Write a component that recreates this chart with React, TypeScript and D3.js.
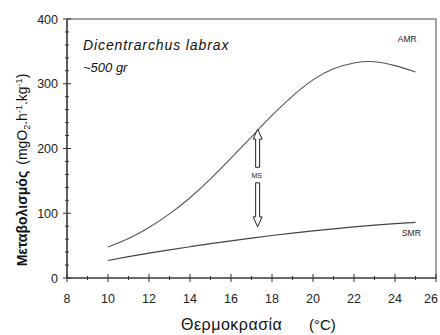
import React from 'react';
import * as d3 from 'd3';

const temps = [10, 11, 12, 13, 14, 15, 16, 17, 18, 19, 20, 21, 22, 23, 24, 25];
const amr = [48, 61, 78, 99, 124, 153, 185, 218, 251, 281, 306, 323, 332, 334, 328, 318];
const smr = [27, 33, 38.5, 43.5, 48.3, 53, 57.4, 61.6, 65.6, 69.3, 72.8, 76, 79, 81.7, 84, 86];
const xTicks = [8, 10, 12, 14, 16, 18, 20, 22, 24, 26];
const yTicks = [0, 100, 200, 300, 400];
const msTemp = 17.3;
const msUp = [171, 230];
const msDown = [147, 79];

const W = 440;
const H = 335;
const margin = { top: 19, right: 4, bottom: 57, left: 67 };
const font = "'Liberation Sans', Arial, sans-serif";
const ink = '#333';

const x = d3.scaleLinear().domain([8, 26]).range([margin.left, W - margin.right]);
const y = d3.scaleLinear().domain([0, 400]).range([H - margin.bottom, margin.top]);

const line = d3
  .line<number>()
  .x((_, i) => x(temps[i]))
  .y((d) => y(d))
  .curve(d3.curveNatural);

// hollow arrow, tip at yTip
const arrowPath = (cx: number, yBase: number, yTip: number) => {
  const dir = yTip < yBase ? -1 : 1;
  const head = 10;
  const sw = 2;
  const hw = 4.5;
  const yNeck = yTip - dir * head;
  return `M${cx - sw},${yBase} L${cx - sw},${yNeck} L${cx - hw},${yNeck} L${cx},${yTip} L${cx + hw},${yNeck} L${cx + sw},${yNeck} L${cx + sw},${yBase} Z`;
};

const App: React.FC = () => {
  const minorX = d3.range(9, 26, 2);
  const minorY = d3.range(0, 401, 20).filter((v) => v % 100 !== 0);
  const x0 = x(8);
  const y0 = y(0);
  return (
    <svg width={W} height={H} style={{ position: 'absolute', left: 0, top: 0, background: '#fff' }}>
      <rect x={x(8)} y={y(400)} width={x(26) - x(8)} height={y(0) - y(400)} fill="none" stroke="#666" strokeWidth={1.2} />
      <line x1={x0} x2={x(26)} y1={y0} y2={y0} stroke={ink} strokeWidth={1.2} />
      <line x1={x0} x2={x0} y1={y(0)} y2={y(400)} stroke={ink} strokeWidth={1.2} />
      {xTicks.map((t) => (
        <g key={'x' + t}>
          <line x1={x(t)} x2={x(t)} y1={y0 - 4} y2={y0 + 4} stroke={ink} />
          <text x={Math.min(x(t), 431)} y={y0 + 25} textAnchor="middle" fontFamily={font} fontSize={12.5} fill="#222">
            {t}
          </text>
        </g>
      ))}
      {minorX.map((t) => (
        <line key={'mx' + t} x1={x(t)} x2={x(t)} y1={y0 - 2} y2={y0 + 2} stroke={ink} />
      ))}
      {yTicks.map((t) => (
        <g key={'y' + t}>
          <line x1={x0 - 4} x2={x0 + 4} y1={y(t)} y2={y(t)} stroke={ink} />
          <text x={x0 - 9} y={y(t) + 4.5} textAnchor="end" fontFamily={font} fontSize={12.5} fill="#222">
            {t}
          </text>
        </g>
      ))}
      {minorY.map((t) => (
        <line key={'my' + t} x1={x0 - 2} x2={x0 + 2} y1={y(t)} y2={y(t)} stroke={ink} />
      ))}
      <path d={line(amr) || ''} fill="none" stroke="#555" strokeWidth={1.1} />
      <path d={line(smr) || ''} fill="none" stroke="#444" strokeWidth={1.2} />
      <path d={arrowPath(x(msTemp), y(msUp[0]), y(msUp[1]))} fill="#fff" stroke="#222" strokeWidth={1} />
      <path d={arrowPath(x(msTemp), y(msDown[0]), y(msDown[1]))} fill="#fff" stroke="#222" strokeWidth={1} />
      <text x={x(msTemp) - 1} y={y(159) + 3} textAnchor="middle" fontFamily={font} fontSize={7} fill="#222">
        MS
      </text>
      <text x={x(24.6)} y={y(365)} textAnchor="middle" fontFamily={font} fontSize={8.5} fill="#222">
        AMR
      </text>
      <text x={x(24.8)} y={y(65)} textAnchor="middle" fontFamily={font} fontSize={8.5} fill="#222">
        SMR
      </text>
      <text x={83} y={50} fontFamily={font} fontSize={14} fontStyle="italic" letterSpacing={0.9} fill="#111">
        Dicentrarchus labrax
      </text>
      <text x={83} y={72} fontFamily={font} fontSize={13} fontStyle="italic" fill="#111">
        ~500 gr
      </text>
      <text x={181} y={330} fontFamily={font} fontSize={16} letterSpacing={0.5} fill="#111">
        Θερμοκρασία
      </text>
      <text x={309} y={330} fontFamily={font} fontSize={15} fill="#111">
        (°C)
      </text>
      <text
        transform={`translate(27,${170}) rotate(-90)`}
        textAnchor="middle"
        fontFamily={font}
        fontSize={14}
        fill="#111"
      >
        <tspan fontWeight="bold">Μεταβολισμός</tspan>
        <tspan dx={6}>(mgO</tspan>
        <tspan fontSize={9} dy={3}>2</tspan>
        <tspan dy={-3}>.h</tspan>
        <tspan fontSize={9} dy={-5}>-1</tspan>
        <tspan dy={5}>.kg</tspan>
        <tspan fontSize={9} dy={-5}>-1</tspan>
        <tspan dy={5}>)</tspan>
      </text>
    </svg>
  );
};

export default App;
